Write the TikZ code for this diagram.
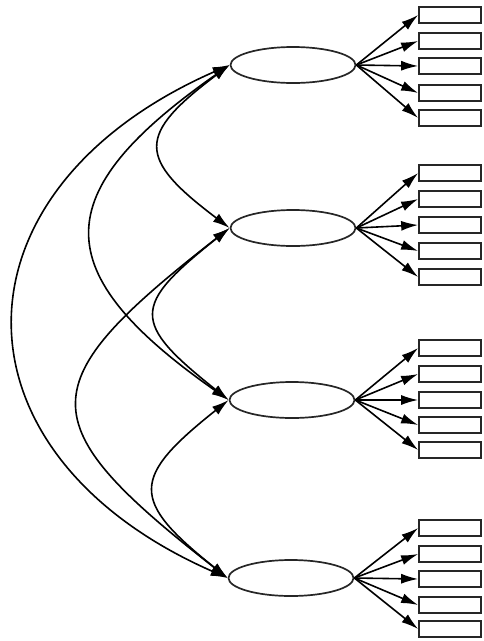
\documentclass[tikz,border=0pt]{standalone}
\usetikzlibrary{arrows.meta,shapes.geometric}
\begin{document}
\begin{tikzpicture}[x=1pt,y=-1pt,
  latent/.style={draw=black!85,line width=1.7pt,ellipse,fill=white,
    minimum width=125pt,minimum height=36pt,inner sep=0pt},
  indicator/.style={draw=black!85,line width=1.7pt,rectangle,fill=white,
    minimum width=62pt,minimum height=16pt,inner sep=0pt},
  tip/.tip={Latex[length=17pt,width=10pt]},
  load/.style={line width=1.6pt,-tip},
  cov/.style={line width=1.6pt,tip-tip}]
\useasboundingbox (0,0) rectangle (483,641);

% latent factors
\node[latent] (e1) at (293,65) {};
\node[latent] (e2) at (293,228) {};
\node[latent] (e3) at (292,400) {};
\node[latent] (e4) at (291,578) {};

% observed indicators, five per factor
\foreach \k/\ya/\yb/\yc/\yd/\ye in {1/15/41/66/93/118, 2/173/199/225/251/277,
                                    3/348/374/400/425/450, 4/528/554/579/605/629}{
  \node[indicator] (r\k a) at (450,\ya) {};
  \node[indicator] (r\k b) at (450,\yb) {};
  \node[indicator] (r\k c) at (450,\yc) {};
  \node[indicator] (r\k d) at (450,\yd) {};
  \node[indicator] (r\k e) at (450,\ye) {};
  \foreach \j in {a,b,c,d,e}{
    \draw[load] (e\k.east) -- (r\k\j.west);
  }
}

% factor covariances
\draw[cov] (e1.west) .. controls +(-93,70) and +(-93,-70) .. (e2.west);
\draw[cov] (e2.west) .. controls +(-98,78) and +(-98,-78) .. (e3.west);
\draw[cov] (e3.west) .. controls +(-98,78) and +(-98,-78) .. (e4.west);
\draw[cov] (e1.west) .. controls +(-183,128) and +(-183,-128) .. (e3.west);
\draw[cov] (e2.west) .. controls +(-200,156) and +(-200,-156) .. (e4.west);
\draw[cov] (e1.west) .. controls +(-285,125) and +(-285,-125) .. (e4.west);
\end{tikzpicture}
\end{document}
